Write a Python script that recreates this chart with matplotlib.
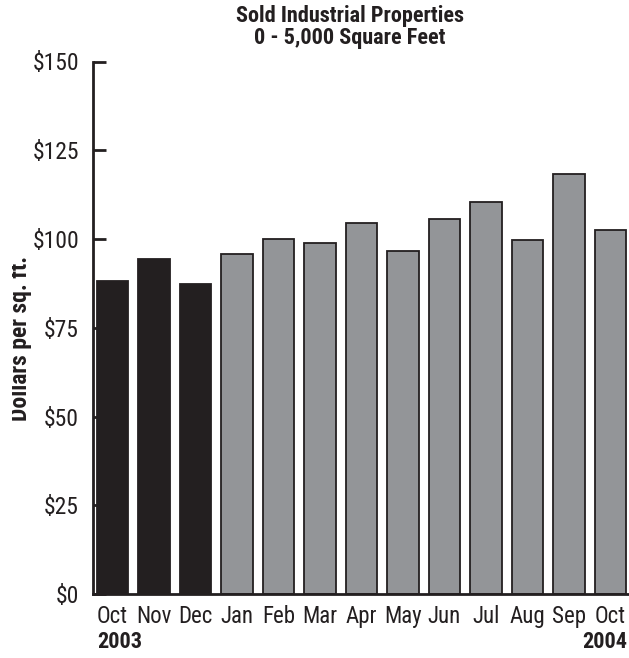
import matplotlib
matplotlib.use("Agg")
import matplotlib.pyplot as plt
from matplotlib.patches import Rectangle
import numpy as np

# values
months = ["Oct", "Nov", "Dec", "Jan", "Feb", "Mar", "Apr",
          "May", "Jun", "Jul", "Aug", "Sep", "Oct"]
price = [88.2, 94.5, 87.4, 95.9, 100.1, 99.0, 104.6,
         96.6, 105.7, 110.5, 99.7, 118.2, 102.5]
yticks = [0, 25, 50, 75, 100, 125, 150]
ytick_labels = ["$0", "$25", "$50", "$75", "$100", "$125", "$150"]
first_year, last_year = "2003", "2004"
n_2003 = 3

plt.rcParams['font.family'] = ['Roboto Condensed', 'DejaVu Sans']
ink = "#231f20"

fig = plt.figure(figsize=(6.29, 6.58), dpi=100)
ax = fig.add_axes([93 / 629, 64 / 658, 536 / 629, 532.5 / 658])

x = np.arange(len(months))
colors = [ink] * n_2003 + ["#939598"] * (len(months) - n_2003)
ax.bar(x, price, width=0.76, color=colors, edgecolor=ink, linewidth=1.3)

ax.set_xlim(-0.47, 12.45)
ax.set_ylim(0, 150)
ax.set_yticks(yticks)
ax.set_yticklabels(ytick_labels)
ax.set_xticks(x)
ax.set_xticklabels(months)

for s in ["top", "right"]:
    ax.spines[s].set_visible(False)
for s in ["left", "bottom"]:
    ax.spines[s].set_linewidth(2)
    ax.spines[s].set_color(ink)

ax.tick_params(axis="y", direction="in", length=9, width=2, pad=10,
               labelsize=17, colors=ink)
ax.tick_params(axis="x", length=0, pad=8, labelsize=16.5, colors=ink)

ax.set_ylabel("Dollars per sq. ft.", fontsize=17, fontweight="bold", color=ink)
ax.yaxis.set_label_coords(-0.114, 0.479)

# the label is cut off at its top in the original
fig.patches.append(Rectangle((0, 0), 12 / 629, 1, transform=fig.transFigure,
                             facecolor="white", edgecolor="none", zorder=10))

fig.text(350 / 629, 1 - 27 / 658, "Sold Industrial Properties\n0 - 5,000 Square Feet",
         ha="center", va="center", fontsize=16, fontweight="bold",
         linespacing=0.95, color=ink)
fig.text(97 / 629, 1 - 642 / 658, first_year, ha="left", va="center",
         fontsize=16, fontweight="bold", color=ink)
fig.text(627 / 629, 1 - 642 / 658, last_year, ha="right", va="center",
         fontsize=16, fontweight="bold", color=ink)

fig.savefig("out.png", dpi=100)
